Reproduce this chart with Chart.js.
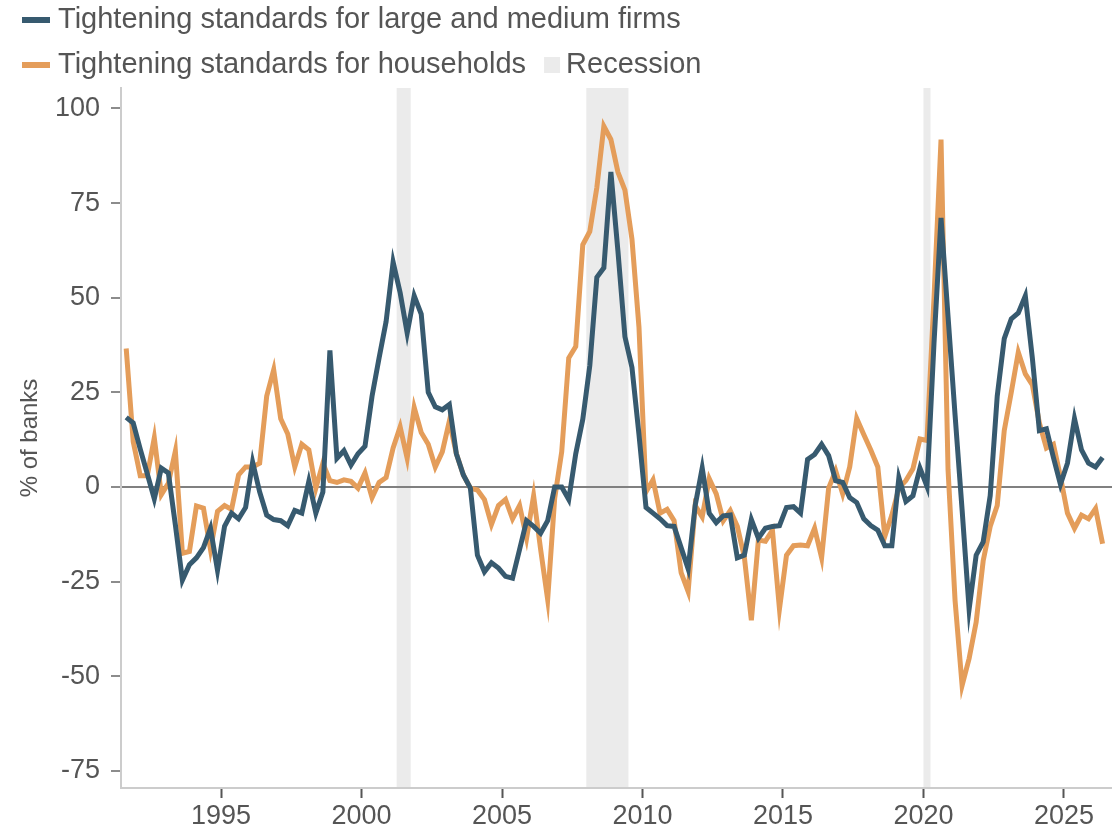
<!DOCTYPE html>
<html>
<head>
<meta charset="utf-8">
<title>Bank lending standards</title>
<script src="https://cdn.jsdelivr.net/npm/chart.js@4.4.1/dist/chart.umd.min.js"></script>
<style>
  html, body { margin: 0; padding: 0; background: #fff; overflow: hidden; }
  #wrap { width: 1112px; height: 832px; }
</style>
</head>
<body>
<div id="wrap"><canvas id="chart" width="1112" height="832"></canvas></div>
<script>
// Quarterly survey results, first observation is 1991 Q3
const firstYear = 1991;
const firstQuarter = 3;

// Net % of banks tightening standards, large and medium firms
const firmsValues = [
    18.4, 16.9, 10, 3.5, -3.1, 5.0, 3.7, -10, -24.6, -20.5,
    -18.7, -16, -10.9, -22, -10.4, -6.9, -8.4, -5.4, 6.6, -1.3,
    -7.4, -8.6, -8.9, -10.2, -6.2, -6.9, 1.5, -6.9, -1.3, 36.1,
    7.6, 9.6, 5.8, 8.8, 10.8, 24, 34.1, 43.7, 59.4, 51.3,
    40.7, 50.5, 45.7, 25, 21.2, 20.4, 21.8, 8.8, 3.2, -0.3,
    -18, -22.4, -20, -21.4, -23.6, -24.1, -16.5, -8.9, -10.4, -12.2,
    -8.9, 0, 0, -3.3, 8.8, 17.9, 32.1, 55.4, 57.9, 83.2,
    62.4, 39.7, 31.6, 13.9, -5.4, -6.9, -8.4, -10.2, -10.4, -16,
    -21.6, -4.9, 5.0, -6.9, -9.4, -7.6, -7.4, -18.7, -18, -8.6,
    -13.5, -10.9, -10.4, -10.2, -5.4, -5.2, -6.9, 7.3, 8.6, 11.3,
    8.3, 1.7, 1.2, -2.8, -4.1, -8.4, -10.2, -11.4, -15.5, -15.5,
    2.5, -3.8, -2.3, 5.0, 0.2, 38, 71.1, 45, 19, -6,
    -32.2, -18, -14.5, -2.3, 24, 39.2, 44.4, 46, 50.5, 34.1,
    14.9, 15.4, 7.8, 0.7, 6.3, 18.1, 9.8, 6.3, 5.3, 7.8
];

// Net % of banks tightening standards, households
const householdValues = [
    36.6, 12, 3, 3, 13, -2, 1, 9.5, -17.5, -17,
    -5, -5.6, -16.5, -6.4, -4.9, -5.9, 3.2, 5.3, 5.3, 6.3,
    24, 31, 18, 14, 5.3, 11.3, 9.8, -0.3, 6.3, 1.7,
    1.2, 1.9, 1.5, -0.3, 3.7, -2.8, 1.2, 2.5, 10.3, 15.9,
    7.6, 21, 14.4, 11.3, 5.3, 9.3, 17.4, 8.8, 3.2, -0.3,
    -0.8, -3.3, -9.9, -4.9, -3.3, -8.4, -4.9, -13.5, -2.3, -16.5,
    -29.7, -3, 9.3, 34.1, 37.1, 64, 67.5, 79.1, 95.3, 91.8,
    83.2, 78.4, 65.5, 42.2, -1.3, 1.9, -6.9, -5.9, -8.9, -22.6,
    -27.6, -4.9, -7.9, 2.2, -1.8, -8.9, -6.2, -10.4, -18.5, -35.2,
    -14, -14.3, -11.4, -32.2, -18, -15.5, -15.3, -15.5, -10.9, -18.7,
    -0.3, 4.3, -1.8, 5.3, 18.1, 13.9, 9.8, 5.3, -13, -7.4,
    -0.3, 1.7, 4.8, 12.7, 12.3, 50, 91.8, 4.5, -30, -52.4,
    -45.3, -35.7, -19.5, -10.4, -4.9, 14.9, 25, 35.6, 29.9, 27,
    16.9, 10.3, 11.3, 2.7, -6.9, -10.9, -7.4, -8.4, -5.7, -15
];

// Recession periods (in years)
const recessionStarts = [2001.25, 2008.0, 2020.0];
const recessionEnds = [2001.75, 2009.5, 2020.25];

const yearTicks = [1995, 2000, 2005, 2010, 2015, 2020, 2025];
const percentTicks = [-75, -50, -25, 0, 25, 50, 75, 100];

const seriesNames = ['Tightening standards for large and medium firms', 'Tightening standards for households'];
const recessionName = 'Recession';

const firmsColor = '#375a6f';
const householdColor = '#e49d5a';
const bandColor = '#ebebeb';
const textColor = '#555555';
const fontFamily = '"Liberation Sans", Arial, sans-serif';

// quarter i -> middle of that quarter, as a decimal year
function toPoints(values) {
    return values.map((v, i) => {
        const q = firstQuarter - 1 + i;
        return { x: firstYear + Math.floor(q / 4) + ((q % 4) + 0.5) / 4, y: v };
    });
}

// Grey recession shading, painted under the grid and lines
const recessionPlugin = {
    id: 'recessions',
    beforeDraw(chart) {
        const { ctx, chartArea, scales } = chart;
        ctx.save();
        ctx.fillStyle = bandColor;
        recessionStarts.forEach((start, i) => {
            const x1 = scales.x.getPixelForValue(start);
            const x2 = scales.x.getPixelForValue(recessionEnds[i]);
            ctx.fillRect(x1, chartArea.top, x2 - x1, chartArea.bottom - chartArea.top);
        });
        ctx.restore();
    }
};

// Legend on two rows at the top left
const legendPlugin = {
    id: 'topLegend',
    afterDraw(chart) {
        const ctx = chart.ctx;
        const rows = [20, 65];
        ctx.save();
        ctx.font = '29px ' + fontFamily;
        ctx.textBaseline = 'middle';
        chart.data.datasets.forEach((ds, i) => {
            ctx.fillStyle = ds.borderColor;
            ctx.fillRect(22, rows[i] - 3, 28, 6);
            ctx.fillStyle = textColor;
            ctx.fillText(ds.label, 58, rows[i]);
        });
        const last = chart.data.datasets[chart.data.datasets.length - 1];
        const boxX = 58 + ctx.measureText(last.label).width + 18;
        ctx.fillStyle = bandColor;
        ctx.fillRect(boxX, rows[1] - 8, 16, 16);
        ctx.fillStyle = textColor;
        ctx.fillText(recessionName, boxX + 22, rows[1]);
        ctx.restore();
    }
};

new Chart(document.getElementById('chart'), {
    type: 'line',
    data: {
        datasets: [
            {
                label: seriesNames[0],
                data: toPoints(firmsValues),
                borderColor: firmsColor,
                borderWidth: 5,
                pointRadius: 0,
                tension: 0
            },
            {
                label: seriesNames[1],
                data: toPoints(householdValues),
                borderColor: householdColor,
                borderWidth: 5,
                pointRadius: 0,
                tension: 0
            }
        ]
    },
    options: {
        responsive: false,
        animation: false,
        layout: { padding: { top: 88, left: 0, right: 0, bottom: 0 } },
        plugins: {
            legend: { display: false },
            tooltip: { enabled: false }
        },
        scales: {
            x: {
                type: 'linear',
                min: 1991.44,
                max: 2026.71,
                afterBuildTicks: scale => { scale.ticks = yearTicks.map(v => ({ value: v })); },
                afterFit: scale => { scale.height = 44; },
                grid: { drawOnChartArea: false, tickLength: 10, tickColor: '#555', tickWidth: 2 },
                border: { color: '#cccccc', width: 2 },
                ticks: {
                    color: textColor,
                    font: { family: fontFamily, size: 27 },
                    padding: 2,
                    maxRotation: 0,
                    callback: v => String(v)
                }
            },
            y: {
                min: -79.5,
                max: 105.4,
                afterBuildTicks: scale => { scale.ticks = percentTicks.map(v => ({ value: v })); },
                afterFit: scale => { scale.width = 121; },
                grid: {
                    color: ctx => (ctx.tick && ctx.tick.value === 0 ? '#808080' : 'rgba(0,0,0,0)'),
                    lineWidth: 2,
                    tickLength: 10,
                    tickColor: '#666',
                    tickWidth: 1.5
                },
                border: { color: '#cccccc', width: 2 },
                ticks: {
                    color: textColor,
                    font: { family: fontFamily, size: 27 },
                    padding: 11,
                    callback: v => String(v)
                },
                title: {
                    display: true,
                    text: '% of banks',
                    color: textColor,
                    font: { family: fontFamily, size: 24 },
                    padding: { top: 16, bottom: 0 }
                }
            }
        }
    },
    plugins: [recessionPlugin, legendPlugin]
});
</script>
</body>
</html>
